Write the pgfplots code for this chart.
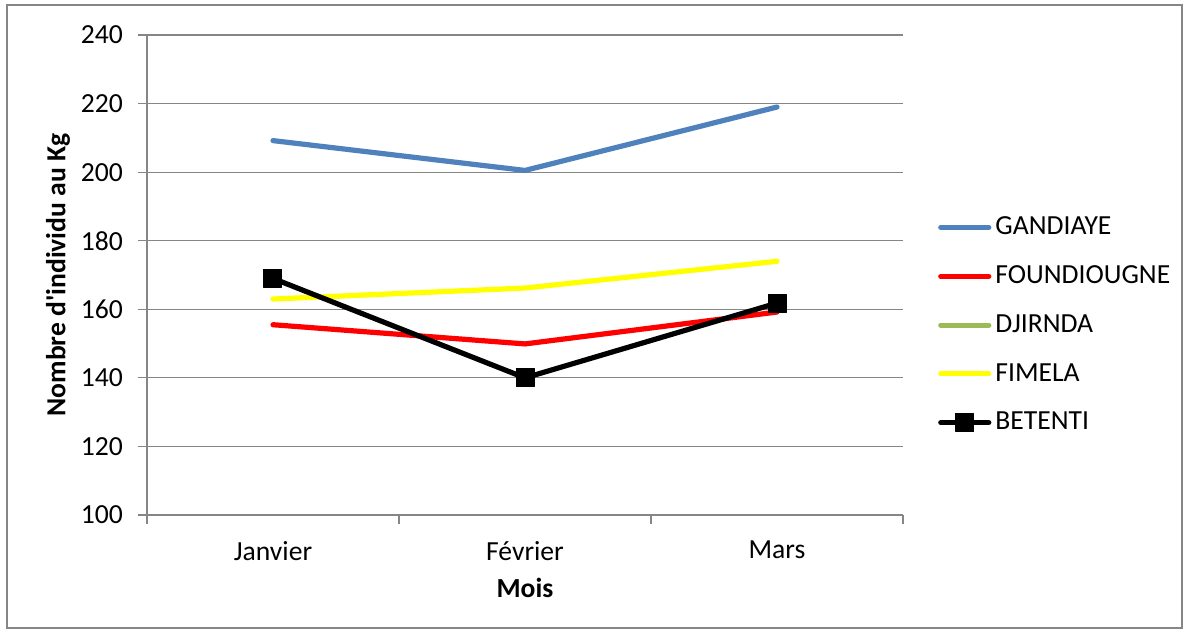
\documentclass[border=0pt]{standalone}
\usepackage{fontspec}
\setmainfont{Carlito}
\usepackage{pgfplots}
\pgfplotsset{compat=1.18}
\definecolor{gandiaye}{RGB}{79,129,189}
\definecolor{djirnda}{RGB}{155,187,89}
\definecolor{fimela}{RGB}{255,255,0}
\definecolor{gridgray}{RGB}{134,134,134}
\newcommand{\chartfont}{\fontsize{13.8}{16}\selectfont}
\begin{document}
\begin{tikzpicture}
\begin{axis}[
  name=ax,
  scale only axis, width=378pt, height=240pt,
  xmin=-0.5, xmax=2.5, ymin=100, ymax=240,
  xtick={0,1,2}, xticklabels={Janvier,Février,Mars},
  ytick={100,120,...,240},
  axis lines=left, axis line style={-, gridgray, line width=0.6pt},
  ymajorgrids, grid style={gridgray, line width=0.6pt},
  major tick style={gridgray, line width=0.6pt},
  tick align=outside, major tick length=4.5pt,
  x tick style={draw=none},
  extra x ticks={-0.5,0.5,1.5,2.5}, extra x tick labels={},
  extra x tick style={x tick style={draw=gridgray}, tick align=outside, major tick length=4.5pt},
  every tick label/.append style={font=\chartfont, text=black},
  /pgf/number format/assume math mode=true,
  yticklabel style={xshift=-4pt},
  xticklabel style={yshift=-5pt},
  xlabel={Mois}, ylabel={Nombre d\textquotesingle individu au Kg},
  every axis x label/.style={at={(axis description cs:0.5,-0.152)}, anchor=center, font=\bfseries\chartfont},
  every axis y label/.style={at={(axis description cs:-0.1177,0.5)}, anchor=center, rotate=90, font=\bfseries\chartfont},
  legend style={at={(axis description cs:1.046,0.396)}, anchor=west, draw=none, fill=none, inner sep=0pt,
    font=\chartfont, row sep=10pt, cells={anchor=west}},
  legend image code/.code={\draw[mark repeat=2,mark phase=2,#1] plot coordinates {(0pt,0pt) (12pt,0pt) (24pt,0pt)};},
  every axis plot/.append style={line width=2.6pt, line join=round, line cap=round},
]
\coordinate (LL) at (rel axis cs:0,0);
\addplot[color=gandiaye, mark=none] coordinates {(0,209.2) (1,200.5) (2,219.0)};
\addlegendentry{GANDIAYE}
\addplot[color=red, mark=none] coordinates {(0,155.5) (1,149.9) (2,159.2)};
\addlegendentry{FOUNDIOUGNE}
\addlegendimage{color=djirnda, line width=2.6pt, line cap=round}
\addlegendentry{DJIRNDA}
\addplot[color=fimela, mark=none] coordinates {(0,163.0) (1,166.2) (2,174.0)};
\addlegendentry{FIMELA}
\addplot[color=black, mark=square*, mark size=4.5pt, mark options={line width=0.5pt, rounded corners=1.2pt}] coordinates {(0,169.0) (1,140.0) (2,161.8)};
\addlegendentry{BETENTI}
\end{axis}
\draw[gridgray, line width=0.8pt] ([shift={(-70pt,-56.5pt)}]LL) rectangle ([shift={(517.5pt,255pt)}]LL);
\useasboundingbox ([shift={(-73.5pt,-59.5pt)}]LL) rectangle ([shift={(521pt,257.5pt)}]LL);
\end{tikzpicture}
\end{document}
